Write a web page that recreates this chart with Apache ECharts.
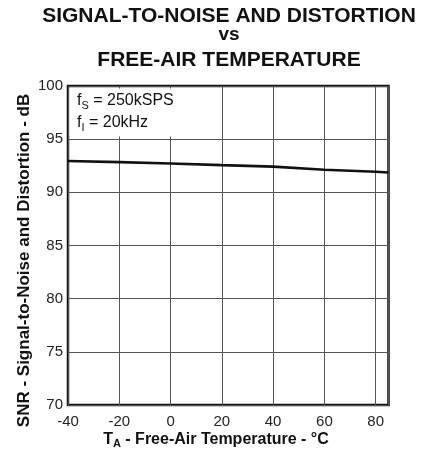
<!DOCTYPE html>
<html>
<head>
<meta charset="utf-8">
<script src="https://cdn.jsdelivr.net/npm/echarts@6/dist/echarts.min.js"></script>
<style>
html,body{margin:0;padding:0;background:#fff;}
#chart{width:436px;height:449px;}
</style>
</head>
<body>
<div id="chart"></div>
<script>
// Data
var temperatures = [-40, -20, 0, 20, 40, 60, 80, 85];
var snrValues = [92.95, 92.84, 92.71, 92.56, 92.42, 92.13, 91.94, 91.86];
var xTicks = [-40, -20, 0, 20, 40, 60, 80];
var yTicks = [70, 75, 80, 85, 90, 95, 100];
var titleLines = ['SIGNAL-TO-NOISE AND DISTORTION', 'vs', 'FREE-AIR TEMPERATURE'];

var FONT = '"Liberation Sans", Arial, Helvetica, sans-serif';
var chart = echarts.init(document.getElementById('chart'), null, {renderer: 'canvas'});

var seriesData = temperatures.map(function (t, i) { return [t, snrValues[i]]; });

var option = {
  backgroundColor: '#fff',
  animation: false,
  grid: {
    left: 68, right: 47.5, top: 86, bottom: 44,
    show: true, borderColor: '#111', borderWidth: 2.5, backgroundColor: 'transparent'
  },
  xAxis: {
    type: 'value', min: -40, max: 85, interval: 20,
    axisLine: {show: false}, axisTick: {show: false},
    splitLine: {show: true, lineStyle: {color: '#555', width: 1}},
    axisLabel: {
      color: '#222', fontFamily: FONT, fontSize: 15, margin: 9,
      showMaxLabel: false,
      formatter: function (v) { return xTicks.indexOf(v) >= 0 ? String(v) : ''; }
    }
  },
  yAxis: {
    type: 'value', min: 70, max: 100, interval: 5,
    axisLine: {show: false}, axisTick: {show: false},
    splitLine: {show: true, lineStyle: {color: '#555', width: 1}},
    axisLabel: {
      color: '#222', fontFamily: FONT, fontSize: 15, margin: 5,
      formatter: function (v) { return yTicks.indexOf(v) >= 0 ? String(v) : ''; }
    }
  },
  series: [{
    type: 'line', data: seriesData, showSymbol: false, symbol: 'none',
    lineStyle: {color: '#111', width: 2.6}, z: 5
  }],
  graphic: [
    {type: 'text', x: 229, y: 16, style: {text: titleLines[0], font: 'bold 21px ' + FONT, fill: '#111', align: 'center', verticalAlign: 'middle'}},
    {type: 'text', x: 229, y: 35, style: {text: titleLines[1], font: 'bold 19px ' + FONT, fill: '#111', align: 'center', verticalAlign: 'middle'}},
    {type: 'text', x: 229, y: 60.5, style: {text: titleLines[2], font: 'bold 21px ' + FONT, fill: '#111', align: 'center', verticalAlign: 'middle'}},
    {type: 'rect', z: 50, shape: {x: 69.5, y: 88.5, width: 115, height: 48}, style: {fill: '#fff'}},
    {type: 'text', z: 51, x: 77, y: 112, style: {
      text: '{m|f}{s|S}{m| = 250kSPS}\n{m|f}{s|I}{m| = 20kHz}',
      align: 'left', verticalAlign: 'middle', fill: '#111',
      rich: {
        m: {fontFamily: FONT, fontSize: 16, lineHeight: 22, fill: '#111'},
        s: {fontFamily: FONT, fontSize: 11, lineHeight: 22, padding: [9, 0, 0, 0], fill: '#111'}
      }
    }},
    {type: 'text', x: 24, y: 260.5, rotation: Math.PI / 2, style: {
      text: 'SNR - Signal-to-Noise and Distortion - dB', font: 'bold 17px ' + FONT,
      fill: '#111', align: 'center', verticalAlign: 'middle'
    }},
    {type: 'text', x: 216, y: 440, style: {
      text: '{b|T}{s|A}{b| - Free-Air Temperature - °C}',
      align: 'center', verticalAlign: 'middle', fill: '#111',
      rich: {
        b: {fontFamily: FONT, fontSize: 16, fontWeight: 'bold', lineHeight: 20, fill: '#111'},
        s: {fontFamily: FONT, fontSize: 11, fontWeight: 'bold', lineHeight: 20, padding: [8, 0, 0, 0], fill: '#111'}
      }
    }}
  ]
};
chart.setOption(option);
</script>
</body>
</html>
